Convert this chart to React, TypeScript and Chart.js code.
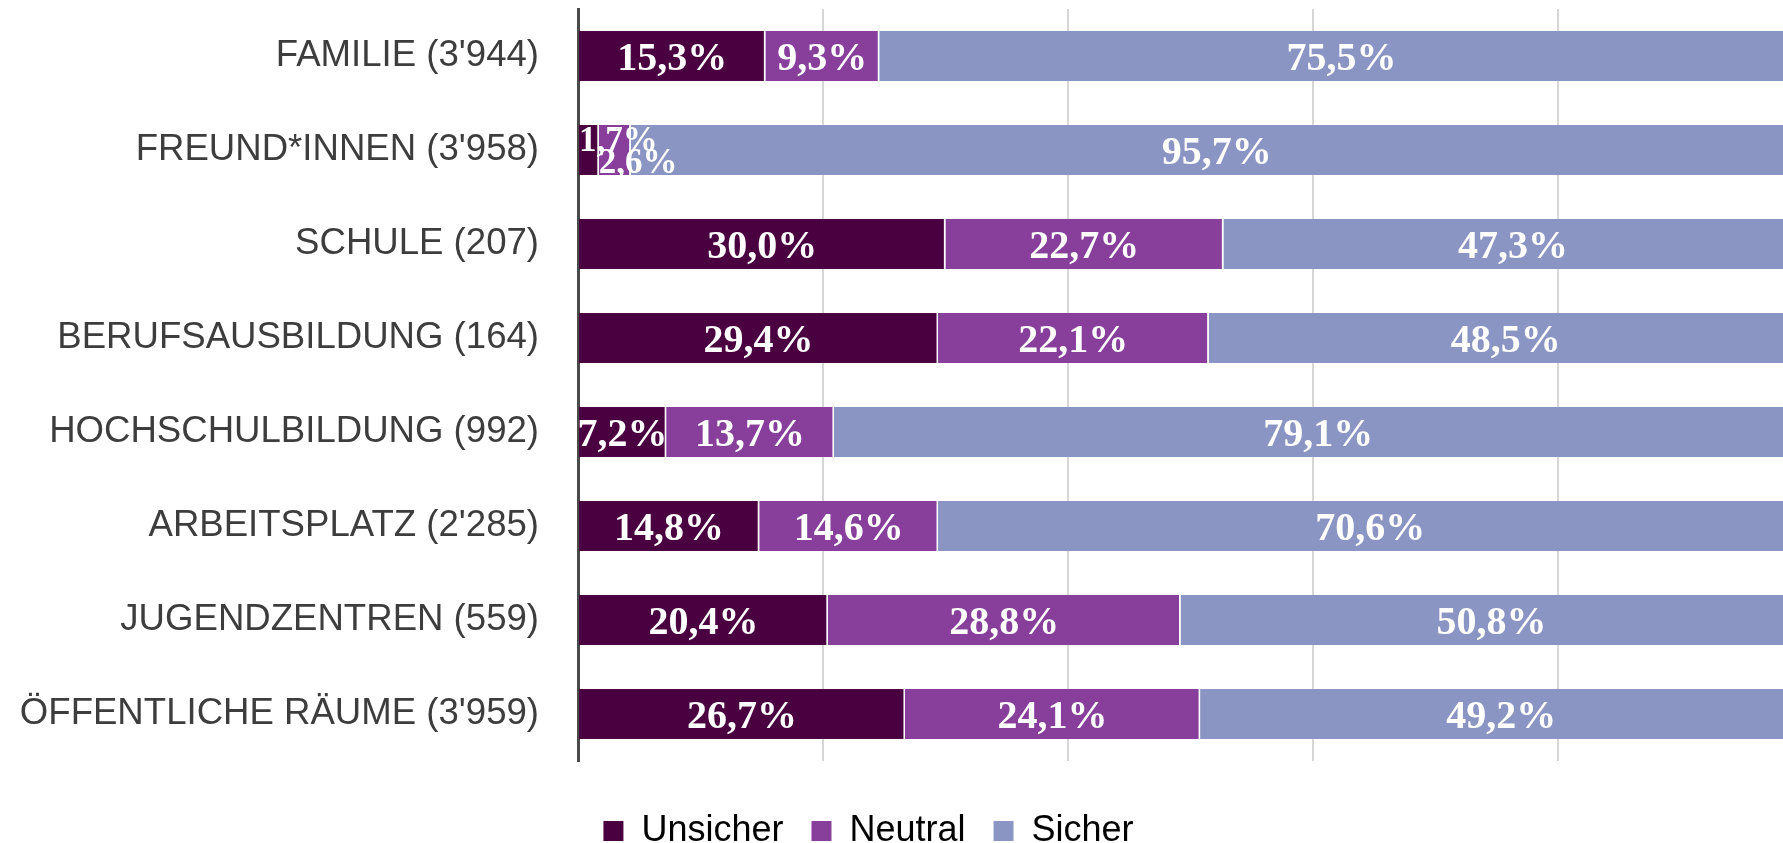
import React, { useEffect, useRef } from 'react';
import { Chart, registerables } from 'chart.js';

Chart.register(...registerables);

const categories = [
  "FAMILIE (3'944)",
  "FREUND*INNEN (3'958)",
  'SCHULE (207)',
  'BERUFSAUSBILDUNG (164)',
  'HOCHSCHULBILDUNG (992)',
  "ARBEITSPLATZ (2'285)",
  'JUGENDZENTREN (559)',
  "ÖFFENTLICHE RÄUME (3'959)",
];
const unsicher = [15.3, 1.7, 30.0, 29.4, 7.2, 14.8, 20.4, 26.7];
const neutral = [9.3, 2.6, 22.7, 22.1, 13.7, 14.6, 28.8, 24.1];
const sicher = [75.5, 95.7, 47.3, 48.5, 79.1, 70.6, 50.8, 49.2];
const seriesNames = ['Unsicher', 'Neutral', 'Sicher'];
const seriesColors = ['#4a0040', '#873f9b', '#8b95c3'];
const gridTicks = [0, 20, 40, 60, 80];

const labelFont = '"Liberation Sans", Arial, sans-serif';
const valueFont = '"Liberation Serif", "Times New Roman", serif';

const segLabels = {
  id: 'segLabels',
  afterDatasetsDraw(chart: any) {
    const ctx = chart.ctx;
    ctx.save();
    ctx.fillStyle = '#ffffff';
    ctx.textBaseline = 'alphabetic';
    chart.data.datasets.forEach((ds: any, di: number) => {
      const meta = chart.getDatasetMeta(di);
      meta.data.forEach((el: any, i: number) => {
        const v = ds.data[i] as number;
        const text = v.toFixed(1).replace('.', ',') + '%';
        const { x, base, y } = el.getProps(['x', 'base', 'y'], true);
        if (v < 5) {
          const size = 35;
          ctx.font = `bold ${size}px ${valueFont}`;
          ctx.textAlign = 'left';
          const dy = di === 0 ? -11 : 11;
          ctx.fillText(text, Math.min(base, x), y + dy + size * 0.34);
        } else {
          const size = 40;
          ctx.font = `bold ${size}px ${valueFont}`;
          ctx.textAlign = 'center';
          ctx.fillText(text, (base + x) / 2, y + size * 0.34);
        }
      });
    });
    ctx.restore();
  },
};

const legendShift = {
  id: 'legendShift',
  afterLayout(chart: any) {
    const lg = chart.legend;
    if (!lg) return;
    lg.left -= 23;
    lg.right -= 23;
    lg.top += 16;
    lg.bottom += 16;
  },
};

export default function App() {
  const ref = useRef<HTMLCanvasElement>(null);

  useEffect(() => {
    document.body.style.margin = '0';
    const values = [unsicher, neutral, sicher];
    const chart = new Chart(ref.current as HTMLCanvasElement, {
      type: 'bar',
      data: {
        labels: categories,
        datasets: seriesNames.map((name, i) => ({
          label: name,
          data: values[i],
          backgroundColor: seriesColors[i],
          borderColor: '#ffffff',
          borderWidth: { top: 0, bottom: 0, left: 0, right: 1.5 },
          borderSkipped: false,
          barPercentage: 0.533,
          categoryPercentage: 1,
        })),
      },
      options: {
        indexAxis: 'y',
        responsive: false,
        animation: false,
        layout: { padding: { top: 9, left: 0, right: 0, bottom: 0 } },
        scales: {
          x: {
            stacked: true,
            min: 0,
            max: 98.4,
            grid: { color: '#d6d6d6', lineWidth: 2, drawTicks: false },
            border: { display: false },
            ticks: { display: false },
            afterBuildTicks: (s: any) => {
              s.ticks = gridTicks.map((v) => ({ value: v }));
            },
            afterFit: (s: any) => {
              s.height = 8;
              s.paddingLeft = 0;
              s.paddingRight = 0;
            },
          },
          y: {
            stacked: true,
            z: 1,
            grid: { display: false, drawTicks: false },
            border: { display: true, color: '#4a4a4a', width: 3 },
            ticks: {
              color: '#3d3d3d',
              font: { family: labelFont, size: 36.6 },
              padding: 39,
            },
            afterFit: (s: any) => {
              s.width = 578;
              s.paddingTop = 0;
              s.paddingBottom = 0;
            },
          },
        },
        plugins: {
          legend: {
            position: 'bottom',
            labels: {
              color: '#3d3d3d',
              font: { family: labelFont, size: 36 },
              boxWidth: 20,
              boxHeight: 20,
              padding: 28,
              generateLabels: (c: any) =>
                c.data.datasets.map((ds: any, i: number) => ({
                  text: ds.label,
                  fillStyle: ds.backgroundColor,
                  strokeStyle: ds.backgroundColor,
                  lineWidth: 0,
                  hidden: false,
                  datasetIndex: i,
                })),
            },
          },
          tooltip: { enabled: false },
        },
      },
      plugins: [segLabels, legendShift],
    } as any);
    return () => chart.destroy();
  }, []);

  return (
    <div style={{ width: 1783, height: 843, overflow: 'hidden' }}>
      <canvas ref={ref} width={1783} height={843} style={{ display: 'block' }} />
    </div>
  );
}
